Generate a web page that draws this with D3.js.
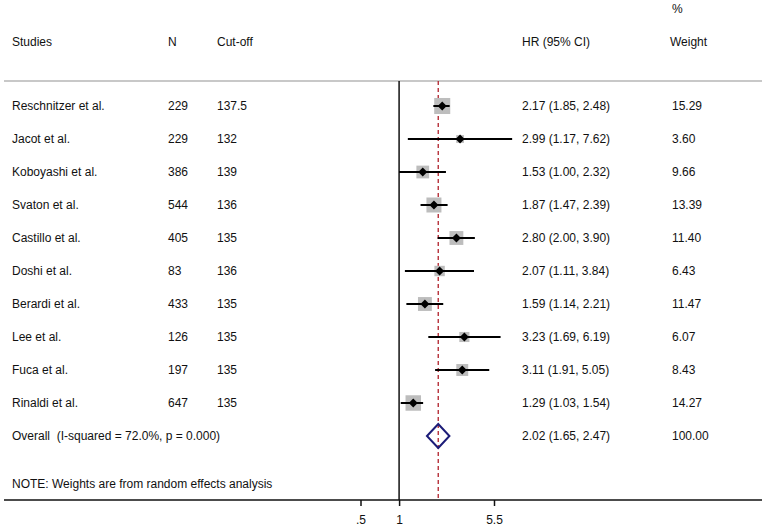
<!DOCTYPE html>
<html>
<head>
<meta charset="utf-8">
<script src="https://cdn.jsdelivr.net/npm/d3@7"></script>
<style>
  body { margin: 0; background: #fff; }
  svg text { font-family: "Liberation Sans", Arial, sans-serif; font-size: 12px; fill: #111; white-space: pre; }
</style>
</head>
<body>
<script>
var studies = ['Reschnitzer et al.', 'Jacot et al.', 'Koboyashi et al.', 'Svaton et al.', 'Castillo et al.',
  'Doshi et al.', 'Berardi et al.', 'Lee et al.', 'Fuca et al.', 'Rinaldi et al.'];
var sizes = [229, 229, 386, 544, 405, 83, 433, 126, 197, 647];
var cutoffs = ['137.5', '132', '139', '136', '135', '136', '135', '135', '135', '135'];
var hr = [2.17, 2.99, 1.53, 1.87, 2.80, 2.07, 1.59, 3.23, 3.11, 1.29];
var lower = [1.85, 1.17, 1.00, 1.47, 2.00, 1.11, 1.14, 1.69, 1.91, 1.03];
var upper = [2.48, 7.62, 2.32, 2.39, 3.90, 3.84, 2.21, 6.19, 5.05, 1.54];
var weights = [15.29, 3.60, 9.66, 13.39, 11.40, 6.43, 11.47, 6.07, 8.43, 14.27];
var overall = { hr: 2.02, lo: 1.65, hi: 2.47, weight: 100 };
var tickValues = [0.5, 1, 5.5];
var tickLabels = ['.5', '1', '5.5'];

var W = 763, H = 528;
var svg = d3.select('body').append('svg').attr('width', W).attr('height', H);

var x = d3.scaleLog().domain([0.5, 5.5]).range([360.5, 494]);
var y = d3.scaleLinear().domain([0, 1]).range([106, 139]); // one row = 33px
var plotTop = 81, plotBottom = 500;
var fmt = d3.format('.2f');
var hrText = function(h, l, u) { return fmt(h) + ' (' + fmt(l) + ', ' + fmt(u) + ')'; };

// column headers
var cols = { study: 12, n: 168, cut: 217, hr: 522, wt: 672 };
svg.append('text').attr('x', cols.study).attr('y', 42).attr('dy', '0.35em').text('Studies');
svg.append('text').attr('x', cols.n).attr('y', 42).attr('dy', '0.35em').text('N');
svg.append('text').attr('x', cols.cut).attr('y', 42).attr('dy', '0.35em').text('Cut-off');
svg.append('text').attr('x', cols.hr).attr('y', 42).attr('dy', '0.35em').text('HR (95% CI)');
svg.append('text').attr('x', cols.wt).attr('y', 9).attr('dy', '0.35em').text('%');
svg.append('text').attr('x', cols.wt - 2).attr('y', 42).attr('dy', '0.35em').text('Weight');

// top rule
svg.append('line').attr('x1', 4).attr('x2', 762).attr('y1', plotTop).attr('y2', plotTop)
  .attr('stroke', '#c8c8c8').attr('stroke-width', 2);

// null line at 1
svg.append('line').attr('x1', x(1)).attr('x2', x(1)).attr('y1', plotTop).attr('y2', plotBottom)
  .attr('stroke', '#111').attr('stroke-width', 1.5);

// overall effect line
svg.append('line').attr('x1', x(overall.hr)).attr('x2', x(overall.hr)).attr('y1', plotTop).attr('y2', plotBottom)
  .attr('stroke', '#b0202a').attr('stroke-width', 1.3).attr('stroke-dasharray', '4,3');

var rows = studies.map(function(s, i) {
  return { study: s, n: sizes[i], cut: cutoffs[i], hr: hr[i], lo: lower[i], hi: upper[i], w: weights[i], i: i };
});

var g = svg.selectAll('g.row').data(rows).enter().append('g').attr('class', 'row');

g.append('rect')
  .attr('x', function(d) { return x(d.hr) - 2.05 * Math.sqrt(d.w); })
  .attr('y', function(d) { return y(d.i) - 2.05 * Math.sqrt(d.w); })
  .attr('width', function(d) { return 4.1 * Math.sqrt(d.w); })
  .attr('height', function(d) { return 4.1 * Math.sqrt(d.w); })
  .attr('fill', '#bdbdbd');

g.append('line')
  .attr('x1', function(d) { return x(d.lo); })
  .attr('x2', function(d) { return x(d.hi); })
  .attr('y1', function(d) { return y(d.i); })
  .attr('y2', function(d) { return y(d.i); })
  .attr('stroke', '#000').attr('stroke-width', 2);

g.append('path')
  .attr('d', function(d) {
    var cx = x(d.hr), cy = y(d.i), r = 4.5;
    return 'M' + cx + ',' + (cy - r) + 'L' + (cx + r) + ',' + cy + 'L' + cx + ',' + (cy + r) + 'L' + (cx - r) + ',' + cy + 'Z';
  })
  .attr('fill', '#000');

g.append('text').attr('x', cols.study).attr('y', function(d) { return y(d.i); }).attr('dy', '0.35em')
  .text(function(d) { return d.study; });
g.append('text').attr('x', cols.n).attr('y', function(d) { return y(d.i); }).attr('dy', '0.35em')
  .text(function(d) { return d.n; });
g.append('text').attr('x', cols.cut).attr('y', function(d) { return y(d.i); }).attr('dy', '0.35em')
  .text(function(d) { return d.cut; });
g.append('text').attr('x', cols.hr).attr('y', function(d) { return y(d.i); }).attr('dy', '0.35em')
  .text(function(d) { return hrText(d.hr, d.lo, d.hi); });
g.append('text').attr('x', cols.wt).attr('y', function(d) { return y(d.i); }).attr('dy', '0.35em')
  .text(function(d) { return fmt(d.w); });

// overall row
var oy = y(studies.length);
svg.append('path')
  .attr('d', 'M' + x(overall.lo) + ',' + oy + 'L' + x(overall.hr) + ',' + (oy - 12) +
    'L' + x(overall.hi) + ',' + oy + 'L' + x(overall.hr) + ',' + (oy + 12) + 'Z')
  .attr('fill', 'none').attr('stroke', '#1c1c78').attr('stroke-width', 2);
svg.append('text').attr('x', cols.study).attr('y', oy).attr('dy', '0.35em')
  .text('Overall  (I-squared = 72.0%, p = 0.000)');
svg.append('text').attr('x', cols.hr).attr('y', oy).attr('dy', '0.35em')
  .text(hrText(overall.hr, overall.lo, overall.hi));
svg.append('text').attr('x', cols.wt).attr('y', oy).attr('dy', '0.35em')
  .text(fmt(overall.weight));

svg.append('text').attr('x', cols.study).attr('y', 484).attr('dy', '0.35em')
  .text('NOTE: Weights are from random effects analysis');

// x axis
svg.append('line').attr('x1', 4).attr('x2', 762).attr('y1', plotBottom).attr('y2', plotBottom)
  .attr('stroke', '#111').attr('stroke-width', 1.5);
var axis = d3.axisBottom(x).tickValues(tickValues).tickSize(6).tickPadding(9)
  .tickFormat(function(d, i) { return tickLabels[i]; });
var ax = svg.append('g').attr('transform', 'translate(0,' + plotBottom + ')').call(axis);
ax.select('.domain').remove();
ax.selectAll('.tick line').attr('stroke', '#111').attr('stroke-width', 1.5);
ax.selectAll('.tick text').style('font-family', '"Liberation Sans", Arial, sans-serif').style('font-size', '12px').attr('fill', '#111');
</script>
</body>
</html>
